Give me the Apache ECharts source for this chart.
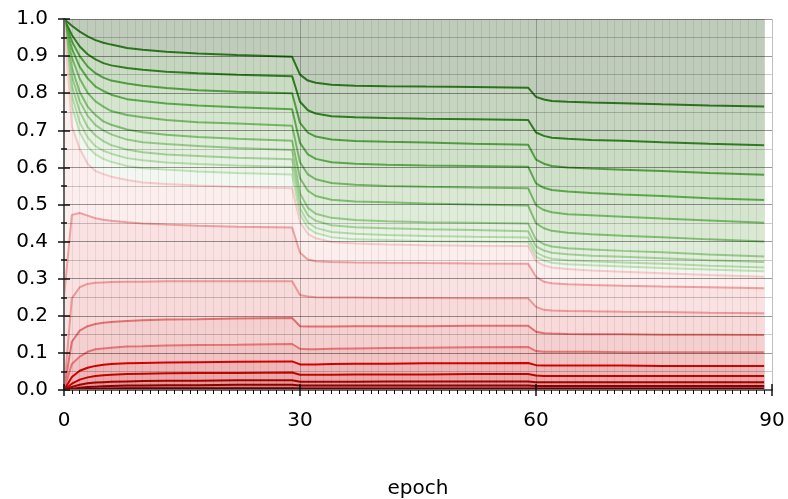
<!DOCTYPE html>
<html>
<head>
<meta charset="utf-8">
<script src="https://cdn.jsdelivr.net/npm/echarts@6/dist/echarts.min.js"></script>
<style>
  html, body { margin: 0; padding: 0; background: #fff; }
  #chart { width: 788px; height: 499px; }
</style>
</head>
<body>
<div id="chart"></div>
<script>
// Sampled epochs (shared x values for every curve)
const epochs = [0,1,2,3,4,5,6,8,10,13,17,22,29,30,31,32,34,37,41,46,52,59,60,61,62,64,67,71,76,82,89];

// Upper (green) curves, from the top one down
const g1  = [1.0,.982,.966,.953,.943,.936,.931,.922,.917,.912,.907,.903,.898,.850,.834,.828,.823,.820,.819,.818,.817,.815,.790,.783,.779,.777,.775,.773,.770,.767,.764];
const g2  = [1.0,.957,.926,.905,.891,.881,.875,.868,.863,.858,.854,.850,.846,.777,.754,.745,.738,.735,.733,.731,.730,.728,.694,.685,.680,.677,.674,.672,.668,.664,.660];
const g3  = [1.0,.940,.900,.872,.854,.842,.834,.826,.820,.814,.808,.804,.800,.720,.694,.683,.675,.671,.669,.667,.664,.661,.621,.610,.604,.600,.597,.594,.590,.585,.580];
const g4  = [1.0,.920,.871,.840,.818,.806,.796,.784,.779,.772,.767,.762,.757,.666,.635,.623,.614,.610,.607,.605,.604,.602,.557,.545,.539,.535,.531,.527,.523,.517,.512];
const g5  = [1.0,.896,.839,.801,.778,.764,.752,.741,.735,.728,.722,.718,.712,.614,.581,.568,.558,.553,.550,.548,.546,.544,.498,.485,.479,.474,.471,.467,.462,.457,.451];
const g6  = [1.0,.869,.803,.764,.741,.724,.715,.702,.695,.688,.682,.677,.672,.571,.537,.523,.513,.508,.506,.503,.500,.497,.449,.436,.429,.424,.420,.416,.412,.406,.400];
const g7  = [1.0,.845,.778,.739,.714,.700,.689,.675,.668,.663,.658,.652,.647,.530,.491,.475,.464,.458,.455,.452,.451,.449,.405,.393,.387,.382,.379,.375,.371,.365,.360];
const g8  = [1.0,.819,.751,.709,.686,.671,.660,.648,.641,.635,.631,.626,.622,.509,.471,.456,.444,.439,.436,.433,.431,.428,.387,.376,.370,.366,.362,.359,.355,.350,.345];
const g9  = [1.0,.793,.721,.681,.657,.645,.637,.625,.619,.613,.609,.605,.601,.489,.452,.437,.426,.421,.418,.415,.413,.411,.371,.360,.354,.350,.347,.344,.340,.335,.330];
const g10 = [1.0,.765,.694,.656,.635,.623,.615,.604,.598,.594,.589,.585,.581,.473,.437,.423,.412,.406,.404,.401,.400,.398,.359,.349,.343,.339,.336,.333,.329,.325,.320];

// Lower (red) curves, from the top one down
const r1  = [1.0,.710,.650,.610,.590,.582,.575,.566,.559,.555,.551,.547,.544,.452,.421,.409,.399,.395,.392,.390,.389,.388,.347,.336,.330,.326,.322,.319,.315,.310,.305];
const r2  = [.250,.472,.477,.470,.463,.459,.456,.452,.449,.446,.443,.440,.438,.370,.352,.347,.345,.344,.343,.342,.341,.340,.305,.292,.288,.285,.283,.281,.279,.277,.274];
const r3  = [0,.247,.277,.286,.289,.290,.291,.292,.292,.293,.293,.293,.293,.256,.252,.250,.249,.249,.248,.248,.247,.247,.224,.216,.214,.213,.212,.211,.210,.208,.207];
const r4  = [0,.130,.160,.172,.178,.181,.183,.186,.188,.190,.191,.193,.194,.172,.171,.171,.171,.172,.172,.172,.173,.173,.157,.153,.152,.151,.150,.150,.149,.149,.148];
const r5  = [0,.070,.090,.103,.110,.112,.114,.117,.118,.120,.121,.122,.124,.111,.110,.110,.111,.112,.113,.114,.115,.116,.105,.103,.103,.103,.103,.102,.102,.102,.102];
const r6  = [0,.035,.052,.060,.065,.068,.070,.072,.073,.074,.075,.076,.077,.069,.069,.069,.070,.071,.071,.072,.072,.073,.067,.066,.066,.066,.066,.066,.065,.065,.065];
const r7  = [0,.017,.028,.034,.038,.040,.041,.043,.044,.045,.046,.046,.047,.041,.041,.041,.041,.042,.042,.042,.043,.043,.039,.038,.038,.038,.038,.038,.038,.038,.038];
const r8  = [0,.008,.014,.018,.020,.021,.022,.023,.024,.025,.025,.026,.026,.022,.022,.022,.022,.022,.023,.023,.023,.023,.021,.021,.021,.021,.021,.021,.021,.021,.021];
const r9  = [0,.003,.006,.008,.009,.010,.011,.012,.012,.013,.013,.014,.014,.012,.012,.012,.012,.012,.012,.012,.012,.012,.011,.011,.011,.011,.011,.011,.011,.011,.011];
const r10 = [0,.001,.002,.003,.003,.004,.004,.005,.005,.005,.005,.005,.005,.004,.004,.004,.004,.004,.004,.004,.004,.004,.004,.004,.004,.004,.004,.004,.004,.004,.004];

const greenCurves = [g1, g2, g3, g4, g5, g6, g7, g8, g9, g10];
const redCurves   = [r1, r2, r3, r4, r5, r6, r7, r8, r9, r10];

// Line colours and band fills (band above each green curve, below each red curve)
const greenLine = ['#2b741d','#2f7c21','#519d40','#5ba84a','#74b665','#7fbd71','#95c888','#a1cf95','#b3d9a8','#bfdfb5'];
const greenFill = ['#bfcbbb','#c5d5bf','#cbdcc5','#d0e1ca','#d5e5cf','#dae8d4','#dfecd9','#e4efdf','#e8f2e4','#edf5ea'];
const redLine   = ['#f6c8c8','#ef9f9f','#ed9797','#e46f6f','#e57373','#d40000','#c80000','#a30000','#8a0000','#6a0000'];
const redFill   = ['#fdeeee','#fae2e2','#f8dada','#f5d0d0','#f2c4c4','#eeb6b6','#eaa8a8','#e59898','#de8484','#d06a6a'];
const middleFill = '#f3f7f1';

const pts = arr => epochs.map((e, i) => [e, arr[i]]);

const series = [];
// neutral band between the two families
series.push({
  type: 'line', data: pts(r1), symbol: 'none', silent: true,
  lineStyle: { width: 0, opacity: 0 },
  areaStyle: { color: middleFill, opacity: 1, origin: 'end' }
});
for (let i = greenCurves.length - 1; i >= 0; i--) {
  series.push({
    type: 'line', data: pts(greenCurves[i]), symbol: 'none', silent: true,
    lineStyle: { color: greenLine[i], width: 2 },
    areaStyle: { color: greenFill[i], opacity: 1, origin: 'end' }
  });
}
for (let i = 0; i < redCurves.length; i++) {
  series.push({
    type: 'line', data: pts(redCurves[i]), symbol: 'none', silent: true,
    lineStyle: { color: redLine[i], width: 2 },
    areaStyle: { color: redFill[i], opacity: 1, origin: 'start' }
  });
}

const font = 'DejaVu Sans';
const chart = echarts.init(document.getElementById('chart'), null, { renderer: 'canvas' });
chart.setOption({
  animation: false,
  backgroundColor: '#ffffff',
  grid: { left: 64, right: 16, top: 19, bottom: 109, containLabel: false, outerBoundsMode: 'none' },
  xAxis: [{
    type: 'value', min: 0, max: 90, interval: 30, z: 5,
    name: 'epoch', nameLocation: 'middle', nameGap: 89,
    nameTextStyle: { fontFamily: font, fontSize: 20, color: '#000' },
    axisLine: { onZero: false, lineStyle: { color: '#666', width: 2 } },
    axisTick: { length: 6, lineStyle: { color: '#111', width: 1.5 } },
    minorTick: { show: true, splitNumber: 30, length: 4, lineStyle: { color: '#111', width: 1 } },
    axisLabel: { fontFamily: font, fontSize: 20, color: '#000', margin: 21 },
    splitLine: { show: true, lineStyle: { color: 'rgba(0,0,0,0.25)', width: 1 } },
    minorSplitLine: { show: true, lineStyle: { color: 'rgba(0,0,0,0.07)', width: 1 } }
  }, {
    type: 'value', min: 0, max: 90, interval: 30, z: 5, position: 'bottom',
    axisLine: { show: false },
    axisTick: { inside: true, length: 6, lineStyle: { color: '#111', width: 1.5 } },
    axisLabel: { show: false }, splitLine: { show: false }
  }],
  yAxis: [{
    type: 'value', min: 0, max: 1, interval: 0.1, z: 5,
    axisLine: { show: true, lineStyle: { color: '#666', width: 2 } },
    axisTick: { length: 6, lineStyle: { color: '#111', width: 1.5 } },
    minorTick: { show: true, splitNumber: 2, length: 3, lineStyle: { color: '#111', width: 1.5 } },
    axisLabel: { fontFamily: font, fontSize: 20, color: '#000', margin: 16,
                 formatter: v => v.toFixed(1) },
    splitLine: { show: true, lineStyle: { color: 'rgba(0,0,0,0.4)', width: 1 } },
    minorSplitLine: { show: true, lineStyle: { color: 'rgba(0,0,0,0.2)', width: 1 } }
  }, {
    type: 'value', min: 0, max: 1, interval: 0.1, z: 5, position: 'left',
    axisLine: { show: false },
    axisTick: { inside: true, length: 6, lineStyle: { color: '#111', width: 1.5 } },
    minorTick: { show: true, splitNumber: 2, length: 3, lineStyle: { color: '#111', width: 1.5 } },
    axisLabel: { show: false }, splitLine: { show: false }
  }],
  series: series
});
</script>
</body>
</html>
